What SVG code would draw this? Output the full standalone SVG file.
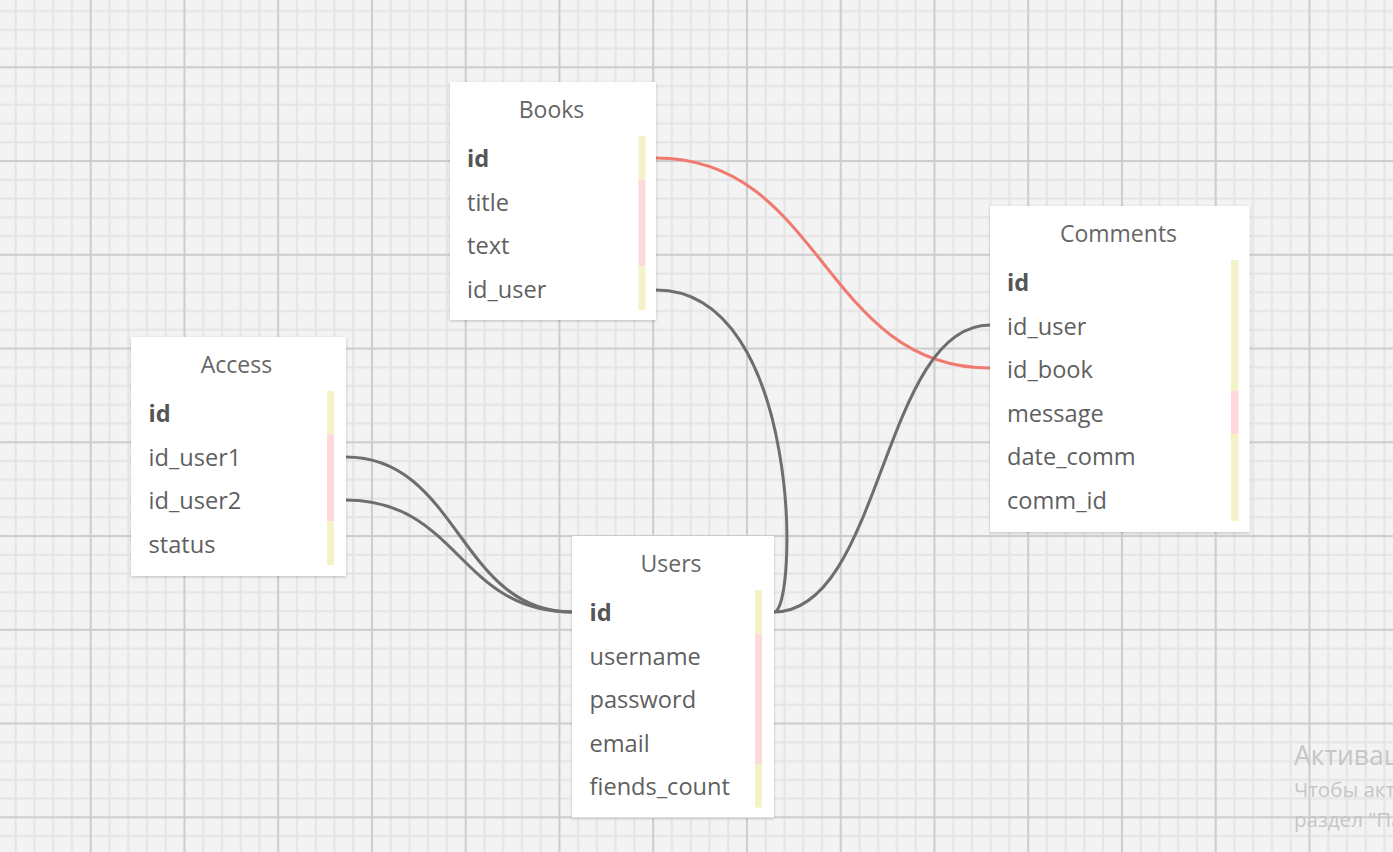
<svg xmlns="http://www.w3.org/2000/svg" width="1393" height="852" viewBox="0 0 1393 852">
<style>
.box{fill:#ffffff;filter:url(#sh)}
.ttl{font-family:"Open Sans","Noto Sans",sans-serif;font-size:23px;fill:#666666;text-anchor:middle}
.fld{font-family:"Open Sans","Noto Sans",sans-serif;font-size:23.6px;fill:#5f5f5f}
.pk{font-weight:bold;fill:#555555}
.y{fill:#f3f3c7}
.p{fill:#fdd9d9}
.con{fill:none;stroke:#6e6e6e;stroke-width:3}
.red{stroke:#f07a70}
.wm{font-family:"Open Sans","Noto Sans",sans-serif;fill:#c6c6c6}
</style>
<defs>
<pattern id="grid" patternUnits="userSpaceOnUse" x="43.825" y="20.425" width="93.75" height="93.75">
<rect width="93.75" height="93.75" fill="#f3f3f3"/>
<g fill="#e4e4e4">
<rect x="8.375" y="0" width="2" height="93.75"/>
<rect x="27.125" y="0" width="2" height="93.75"/>
<rect x="64.625" y="0" width="2" height="93.75"/>
<rect x="83.375" y="0" width="2" height="93.75"/>
<rect x="0" y="8.375" width="93.75" height="2"/>
<rect x="0" y="27.125" width="93.75" height="2"/>
<rect x="0" y="64.625" width="93.75" height="2"/>
<rect x="0" y="83.375" width="93.75" height="2"/>
</g>
<g fill="#cdcdcd">
<rect x="45.875" y="0" width="2" height="93.75"/>
<rect x="0" y="45.875" width="93.75" height="2"/>
</g>
</pattern>
<filter id="sh" x="-10%" y="-10%" width="120%" height="120%">
<feDropShadow dx="0" dy="1" stdDeviation="1.5" flood-color="#000" flood-opacity="0.22"/>
</filter>
</defs>
<rect width="1393" height="852" fill="url(#grid)"/>

<g id="connectors">
<path class="con red" d="M656,158 C823,158 823,368 990,368"/>
<path class="con" d="M656,290 C803,290 798,612 774,612"/>
<path class="con" d="M774,612 C882,612 882,325 990,325"/>
<path class="con" d="M346,457 C459,457 459,612 572,612"/>
<path class="con" d="M346,500 C459,500 459,612 572,612"/>
</g>

<g id="books">
<rect class="box" x="450" y="82" width="206" height="238"/>
<text class="ttl" x="551.5" y="118">Books</text>
<rect class="y" x="638.5" y="136" width="7" height="43.5"/>
<rect class="p" x="638.5" y="179.5" width="7" height="87"/>
<rect class="y" x="638.5" y="266.5" width="7" height="43.5"/>
<text class="fld pk" x="467" y="167">id</text>
<text class="fld" x="467" y="210.5">title</text>
<text class="fld" x="467" y="254">text</text>
<text class="fld" x="467" y="297.5">id_user</text>
</g>

<g id="access">
<rect class="box" x="131" y="337" width="215" height="239"/>
<text class="ttl" x="236.5" y="373">Access</text>
<rect class="y" x="327" y="391" width="7" height="43.5"/>
<rect class="p" x="327" y="434.5" width="7" height="87"/>
<rect class="y" x="327" y="521.5" width="7" height="43.5"/>
<text class="fld pk" x="148.5" y="422">id</text>
<text class="fld" x="148.5" y="465.5">id_user1</text>
<text class="fld" x="148.5" y="509">id_user2</text>
<text class="fld" x="148.5" y="552.5">status</text>
</g>

<g id="users">
<rect class="box" x="572" y="536" width="202" height="281.5"/>
<text class="ttl" x="671" y="572">Users</text>
<rect class="y" x="755" y="590" width="7" height="43.5"/>
<rect class="p" x="755" y="633.5" width="7" height="130.5"/>
<rect class="y" x="755" y="764" width="7" height="43.5"/>
<text class="fld pk" x="589.5" y="621">id</text>
<text class="fld" x="589.5" y="664.5">username</text>
<text class="fld" x="589.5" y="708">password</text>
<text class="fld" x="589.5" y="751.5">email</text>
<text class="fld" x="589.5" y="795">fiends_count</text>
</g>

<g id="comments">
<rect class="box" x="990" y="206" width="259.5" height="326"/>
<text class="ttl" x="1118.5" y="242">Comments</text>
<rect class="y" x="1231" y="260" width="7.5" height="130.5"/>
<rect class="p" x="1231" y="390.5" width="7.5" height="43.5"/>
<rect class="y" x="1231" y="434" width="7.5" height="87"/>
<text class="fld pk" x="1007" y="291">id</text>
<text class="fld" x="1007" y="334.5">id_user</text>
<text class="fld" x="1007" y="378">id_book</text>
<text class="fld" x="1007" y="421.5">message</text>
<text class="fld" x="1007" y="465">date_comm</text>
<text class="fld" x="1007" y="508.5">comm_id</text>
</g>

<g id="watermark">
<text class="wm" x="1294" y="765" font-size="26.5">Активация Windows</text>
<text class="wm" x="1294" y="797" font-size="20.5">Чтобы активировать Windows, перейдите в</text>
<text class="wm" x="1294" y="827" font-size="20.5">раздел "Параметры".</text>
</g>
</svg>
